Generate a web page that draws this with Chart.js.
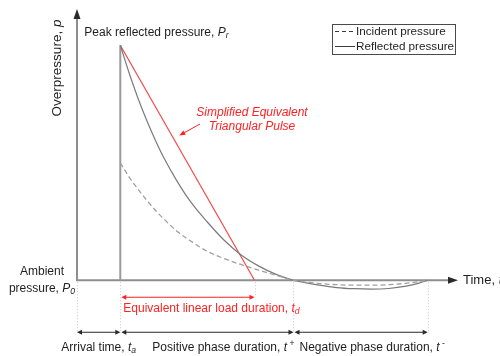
<!DOCTYPE html>
<html>
<head>
<meta charset="utf-8" />
<title>Blast wave pressure-time history</title>
<script src="https://cdn.jsdelivr.net/npm/chart.js"></script>
<style>
  html, body { margin: 0; padding: 0; background: #fff; }
  #wrap { width: 500px; height: 356px; position: relative; }
</style>
</head>
<body>
<div id="wrap"><canvas id="blastChart"></canvas></div>
<script>
// time in arbitrary units, overpressure normalised to the peak reflected pressure
var positiveTime = [10, 12, 14, 16, 18, 20, 23, 26, 30, 34, 38, 42, 46, 50];
var reflectedPositive = [1.0, 0.884, 0.779, 0.685, 0.6, 0.523, 0.425, 0.34, 0.25, 0.17, 0.106, 0.06, 0.025, 0];
var incidentPositive = [0.5, 0.44, 0.39, 0.343, 0.3, 0.262, 0.21, 0.17, 0.124, 0.092, 0.066, 0.043, 0.021, 0];

var negativeTime = [53, 56, 60, 64, 68, 72, 76, 79, 81];
var reflectedNegative = [-0.011, -0.021, -0.031, -0.036, -0.038, -0.035, -0.025, -0.012, 0];
var incidentNegative = [-0.008, -0.014, -0.019, -0.021, -0.021, -0.019, -0.013, -0.006, 0];

// equivalent triangular pulse: peak at arrival, zero at t_d
var triangleTime = [10, 41];
var triangleP = [1.0, 0];

// origin, arrival, end of positive phase, end of negative phase
var phaseTime = [0, 10, 50, 81];
var loadEnd = 41;
var timeMax = 88;

var FONT = '"Liberation Sans", Arial, Helvetica, sans-serif';
var INK = '#1e1e1e';
var RED = '#ff2222';

function pts(xs, ys) {
  return xs.map(function (x, i) { return { x: x, y: ys[i] }; });
}

function fontFor(style, size) {
  var small = style.indexOf('sub') >= 0 || style.indexOf('sup') >= 0;
  var s = small ? size * 0.72 : size;
  return (style.indexOf('i') === 0 ? 'italic ' : '') + s + 'px ' + FONT;
}

// draws a run of text pieces: [text, style], style = '' | 'i' | 'isub' | 'sup'
function rich(ctx, parts, x, y, align, size, color) {
  var w = 0;
  parts.forEach(function (p) {
    ctx.font = fontFor(p[1], size);
    w += ctx.measureText(p[0]).width;
  });
  var cx = align === 'center' ? x - w / 2 : (align === 'right' ? x - w : x);
  ctx.fillStyle = color;
  ctx.textBaseline = 'middle';
  ctx.textAlign = 'left';
  parts.forEach(function (p) {
    ctx.font = fontFor(p[1], size);
    var dy = p[1].indexOf('sub') >= 0 ? size * 0.3 : (p[1].indexOf('sup') >= 0 ? -size * 0.3 : 0);
    ctx.fillText(p[0], cx, y + dy);
    cx += ctx.measureText(p[0]).width;
  });
}

function seg(ctx, x1, y1, x2, y2) {
  ctx.beginPath();
  ctx.moveTo(x1, y1);
  ctx.lineTo(x2, y2);
  ctx.stroke();
}

// filled arrowhead with its tip at (x, y) pointing along angle a
function head(ctx, x, y, a, len, half) {
  ctx.beginPath();
  ctx.moveTo(x, y);
  ctx.lineTo(x - len * Math.cos(a) + half * Math.sin(a), y - len * Math.sin(a) - half * Math.cos(a));
  ctx.lineTo(x - len * Math.cos(a) - half * Math.sin(a), y - len * Math.sin(a) + half * Math.cos(a));
  ctx.closePath();
  ctx.fill();
}

function span(ctx, x1, x2, y, color) {
  ctx.strokeStyle = color;
  ctx.fillStyle = color;
  ctx.lineWidth = 1;
  seg(ctx, x1 + 2, y, x2 - 2, y);
  head(ctx, x1, y, Math.PI, 5, 2.5);
  head(ctx, x2, y, 0, 5, 2.5);
}

var sketchLayer = {
  id: 'sketchLayer',
  beforeDatasetsDraw: function (chart) {
    var ctx = chart.ctx, xs = chart.scales.x, ys = chart.scales.y;
    var x0 = xs.getPixelForValue(0), y0 = ys.getPixelForValue(0);
    var xEnd = xs.getPixelForValue(timeMax), yTop = ys.top - 1;
    ctx.save();

    // dotted guides under the ambient line
    ctx.strokeStyle = '#c8c8c8';
    ctx.lineWidth = 1;
    ctx.setLineDash([1, 2]);
    phaseTime.forEach(function (t) {
      var px = Math.round(xs.getPixelForValue(t)) + 0.5;
      seg(ctx, px, y0 + 2, px, y0 + 53);
    });
    var pxd = Math.round(xs.getPixelForValue(loadEnd)) + 0.5;
    seg(ctx, pxd, y0 + 2, pxd, y0 + 17);
    ctx.setLineDash([]);

    // pressure and time axes
    ctx.strokeStyle = '#8e8e8e';
    ctx.lineWidth = 2;
    seg(ctx, x0, y0, x0, yTop + 8);
    seg(ctx, x0 - 1, y0, xEnd - 8, y0);
    ctx.fillStyle = '#2a2a2a';
    head(ctx, x0, yTop, -Math.PI / 2, 10, 3.5);
    head(ctx, xEnd, y0, 0, 10, 3.5);
    ctx.restore();
  },
  afterDraw: function (chart) {
    var ctx = chart.ctx, xs = chart.scales.x, ys = chart.scales.y;
    var x0 = xs.getPixelForValue(0), y0 = ys.getPixelForValue(0);
    var xA = xs.getPixelForValue(phaseTime[1]);
    var xP = xs.getPixelForValue(phaseTime[2]);
    var xN = xs.getPixelForValue(phaseTime[3]);
    var xD = xs.getPixelForValue(loadEnd);
    var yPeak = ys.getPixelForValue(triangleP[0]);
    ctx.save();

    // axis titles
    ctx.save();
    ctx.translate(57, 68);
    ctx.rotate(-Math.PI / 2);
    rich(ctx, [['Overpressure, ', ''], ['p', 'i']], 0, 0, 'center', 13.5, INK);
    ctx.restore();
    rich(ctx, [['Time, ', ''], ['t', 'i']], xs.getPixelForValue(timeMax) + 5, y0, 'left', 13, INK);

    rich(ctx, [['Peak reflected pressure, ', ''], ['P', 'i'], ['r', 'isub']], xA - 36, yPeak - 13, 'left', 12, INK);
    rich(ctx, [['Ambient', '']], 42, y0 - 9, 'center', 12, INK);
    rich(ctx, [['pressure, ', ''], ['P', 'i'], ['0', 'isub']], 42, y0 + 8, 'center', 12, INK);

    // triangular pulse callout
    rich(ctx, [['Simplified Equivalent', 'i']], 252, 113, 'center', 12, RED);
    rich(ctx, [['Triangular Pulse', 'i']], 252, 127, 'center', 12, RED);
    var pOn = 0.62;
    var tOn = triangleTime[0] + (triangleTime[1] - triangleTime[0]) * (1 - pOn);
    var ax = xs.getPixelForValue(tOn) + 8, ay = ys.getPixelForValue(pOn) + 1;
    ctx.strokeStyle = RED;
    ctx.fillStyle = RED;
    ctx.lineWidth = 1;
    var a = Math.atan2(ay - 124, ax - 200);
    seg(ctx, 200, 124, ax - 4 * Math.cos(a), ay - 4 * Math.sin(a));
    head(ctx, ax, ay, a, 6, 2.5);

    // equivalent load duration
    span(ctx, xA + 1, xD, y0 + 17, RED);
    rich(ctx, [['Equivalent linear load duration, ', ''], ['t', 'i'], ['d', 'isub']], xA + 3, y0 + 28, 'left', 12, RED);

    // phase durations
    var yd = y0 + 52;
    span(ctx, x0, xA, yd, '#2a2a2a');
    span(ctx, xA + 1, xP, yd, '#2a2a2a');
    span(ctx, xP + 1, xN, yd, '#2a2a2a');
    rich(ctx, [['Arrival time, ', ''], ['t', 'i'], ['a', 'isub']], (x0 + xA) / 2, y0 + 67, 'center', 12, INK);
    rich(ctx, [['Positive phase duration, ', ''], ['t', 'i'], [' +', 'sup']], xA + 32, y0 + 67, 'left', 12, INK);
    rich(ctx, [['Negative phase duration, ', ''], ['t', 'i'], [' -', 'sup']], xP + 6, y0 + 67, 'left', 12, INK);

    // legend box
    var lx = 332, ly = 24, lw = 123, lh = 30;
    ctx.strokeStyle = '#4a4a4a';
    ctx.lineWidth = 1;
    ctx.strokeRect(lx + 0.5, ly + 0.5, lw, lh);
    var sets = chart.data.datasets.filter(function (d) { return d.label; });
    sets.forEach(function (d, i) {
      var yy = ly + 7.5 + i * 15;
      ctx.strokeStyle = '#3a3a3a';
      ctx.lineWidth = 1;
      ctx.setLineDash(d.legendDash || []);
      seg(ctx, lx + 3, yy, lx + 23, yy);
      ctx.setLineDash([]);
      rich(ctx, [[d.label, '']], lx + 24, yy, 'left', 11.7, INK);
    });
    ctx.restore();
  }
};

new Chart(document.getElementById('blastChart'), {
  type: 'line',
  data: {
    datasets: [
      {
        label: 'Incident pressure',
        data: pts(positiveTime.concat(negativeTime), incidentPositive.concat(incidentNegative)),
        borderColor: '#a0a0a0',
        borderWidth: 1.3,
        borderDash: [5, 3],
        legendDash: [4, 3],
        cubicInterpolationMode: 'monotone',
        pointRadius: 0
      },
      {
        label: 'Reflected pressure',
        data: pts(positiveTime.concat(negativeTime), reflectedPositive.concat(reflectedNegative)),
        borderColor: '#7a7a7a',
        borderWidth: 1.2,
        cubicInterpolationMode: 'monotone',
        pointRadius: 0
      },
      {
        // shock front at arrival
        data: pts([phaseTime[1], phaseTime[1]], [0, reflectedPositive[0]]),
        borderColor: '#9a9a9a',
        borderWidth: 2,
        tension: 0,
        pointRadius: 0
      },
      {
        data: pts(triangleTime, triangleP),
        borderColor: '#f04848',
        borderWidth: 1.2,
        tension: 0,
        pointRadius: 0
      }
    ]
  },
  options: {
    responsive: true,
    maintainAspectRatio: false,
    animation: false,
    layout: { padding: { left: 77, right: 42, top: 10, bottom: 64 } },
    plugins: { legend: { display: false }, tooltip: { enabled: false } },
    scales: {
      x: { type: 'linear', min: 0, max: timeMax, display: false },
      y: { type: 'linear', min: -0.05, max: 1.15, display: false }
    }
  },
  plugins: [sketchLayer]
});
</script>
</body>
</html>
